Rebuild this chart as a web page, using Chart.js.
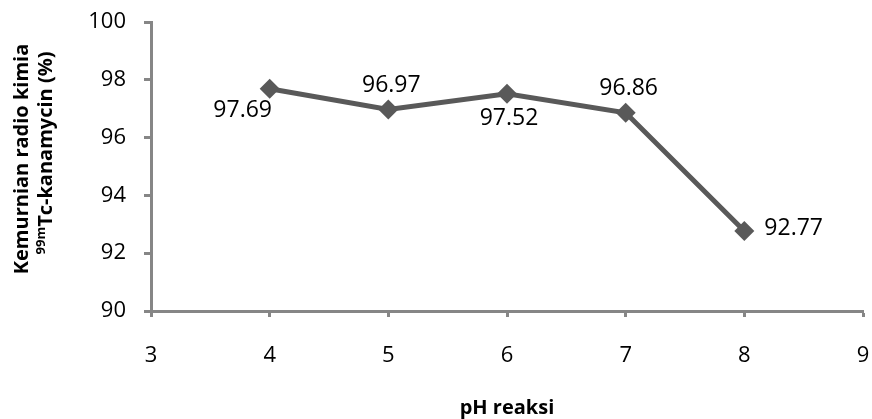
<!DOCTYPE html>
<html>
<head>
<meta charset="utf-8">
<script src="https://cdn.jsdelivr.net/npm/chart.js@4.4.1/dist/chart.umd.min.js"></script>
<style>
  html, body { margin: 0; padding: 0; background: #ffffff; }
  #wrap { width: 872px; height: 419px; }
</style>
</head>
<body>
<div id="wrap"><canvas id="c" width="872" height="419"></canvas></div>
<script>
// pH of the labelling reaction and the resulting radiochemical purity
const phValues = [4, 5, 6, 7, 8];
const purity = [97.69, 96.97, 97.52, 96.86, 92.77];

// axis ranges / tick labels
const xTicks = [3, 4, 5, 6, 7, 8, 9];
const yTicks = [90, 92, 94, 96, 98, 100];

// axis titles
const xTitle = 'pH reaksi';
const yTitleLine1 = 'Kemurnian radio kimia';
const yTitleSup = '99m';
const yTitleLine2 = 'Tc-kanamycin (%)';

// where each value label sits relative to its point
const labelPlacement = ['belowLeft', 'above', 'below', 'above', 'right'];

const AXIS_GREY = '#868686';
const LINE_GREY = '#595959';
const FONT = '"Open Sans", sans-serif';

// plot frame edges in canvas pixels
const PLOT_TOP = 22;
const PLOT_RIGHT = 863;

// label offsets (px) for each placement style
const LABEL_OFFSETS = {
  above: [3, -24],
  below: [2, 25],
  belowLeft: [-27, 22],
  right: [20, -2]
};

const points = phValues.map((x, i) => ({ x: x, y: purity[i] }));

// value labels next to each marker
const valueLabels = {
  id: 'valueLabels',
  afterDatasetsDraw(chart) {
    const ctx = chart.ctx;
    const meta = chart.getDatasetMeta(0);
    ctx.save();
    ctx.font = '23px ' + FONT;
    ctx.fillStyle = '#000000';
    ctx.textBaseline = 'middle';
    meta.data.forEach((pt, i) => {
      const place = labelPlacement[i];
      const off = LABEL_OFFSETS[place];
      ctx.textAlign = place === 'right' ? 'left' : 'center';
      ctx.fillText(purity[i].toFixed(2), pt.x + off[0], pt.y + off[1]);
    });
    ctx.restore();
  }
};

// axis titles, including the superscript isotope mass number
const axisTitles = {
  id: 'axisTitles',
  afterDraw(chart) {
    const ctx = chart.ctx;
    const area = chart.chartArea;
    ctx.save();
    ctx.fillStyle = '#000000';

    // horizontal axis title
    ctx.font = 'bold 20px ' + FONT;
    ctx.textAlign = 'center';
    ctx.textBaseline = 'alphabetic';
    ctx.fillText(xTitle, (area.left + area.right) / 2, 414);

    // vertical axis title (two rotated lines)
    ctx.save();
    ctx.translate(28, 159);
    ctx.rotate(-Math.PI / 2);
    ctx.font = 'bold 20px ' + FONT;
    ctx.textAlign = 'center';
    ctx.fillText(yTitleLine1, 0, 0);
    ctx.restore();

    ctx.save();
    ctx.translate(52, 153);
    ctx.rotate(-Math.PI / 2);
    const supFont = 'bold 13px ' + FONT;
    const mainFont = 'bold 20px ' + FONT;
    ctx.font = supFont;
    const wSup = ctx.measureText(yTitleSup).width;
    ctx.font = mainFont;
    const wMain = ctx.measureText(yTitleLine2).width;
    const start = -(wSup + wMain) / 2;
    ctx.textAlign = 'left';
    ctx.font = supFont;
    ctx.fillText(yTitleSup, start, -7);
    ctx.font = mainFont;
    ctx.fillText(yTitleLine2, start + wSup, 0);
    ctx.restore();

    ctx.restore();
  }
};

const chart = new Chart(document.getElementById('c'), {
  type: 'line',
  data: {
    datasets: [{
      data: points,
      borderColor: LINE_GREY,
      borderWidth: 5,
      pointStyle: 'rectRot',
      pointRadius: 10,
      pointHoverRadius: 10,
      pointBackgroundColor: LINE_GREY,
      pointBorderWidth: 0,
      tension: 0,
      clip: false
    }]
  },
  options: {
    responsive: false,
    animation: false,
    devicePixelRatio: 1,
    layout: { autoPadding: false, padding: { left: 0, top: PLOT_TOP, right: 872 - PLOT_RIGHT, bottom: 0 } },
    plugins: {
      legend: { display: false },
      tooltip: { enabled: false },
      title: { display: false }
    },
    scales: {
      x: {
        type: 'linear',
        min: xTicks[0],
        max: xTicks[xTicks.length - 1],
        afterBuildTicks(scale) { scale.ticks = xTicks.map(v => ({ value: v })); },
        afterFit(scale) {
          scale.height = 108;
          scale.paddingLeft = 0;
          scale.paddingRight = 0;
        },
        ticks: {
          font: { family: FONT, size: 22 },
          color: '#000000',
          padding: 26,
          maxRotation: 0
        },
        grid: {
          drawOnChartArea: false,
          drawTicks: true,
          tickLength: 6,
          tickColor: AXIS_GREY,
          tickWidth: 3,
          color: AXIS_GREY
        },
        border: { display: true, color: AXIS_GREY, width: 3 }
      },
      y: {
        type: 'linear',
        min: yTicks[0],
        max: yTicks[yTicks.length - 1],
        afterBuildTicks(scale) { scale.ticks = yTicks.map(v => ({ value: v })); },
        afterFit(scale) {
          scale.width = 151;
          scale.paddingTop = 0;
          scale.paddingBottom = 0;
        },
        ticks: {
          font: { family: FONT, size: 22 },
          color: '#000000',
          padding: 18
        },
        grid: {
          drawOnChartArea: false,
          drawTicks: true,
          tickLength: 7,
          tickColor: AXIS_GREY,
          tickWidth: 3,
          color: AXIS_GREY
        },
        border: { display: true, color: AXIS_GREY, width: 3 }
      }
    }
  },
  plugins: [valueLabels, axisTitles]
});

// nudge the layout padding so the plot frame lands on the intended edges
const area = chart.chartArea;
const pad = chart.config.options.layout.padding;
const dTop = PLOT_TOP - area.top;
const dRight = area.right - PLOT_RIGHT;
if (Math.abs(dTop) > 0.5 || Math.abs(dRight) > 0.5) {
  pad.top += dTop;
  pad.right += dRight;
  chart.update();
}
</script>
</body>
</html>
